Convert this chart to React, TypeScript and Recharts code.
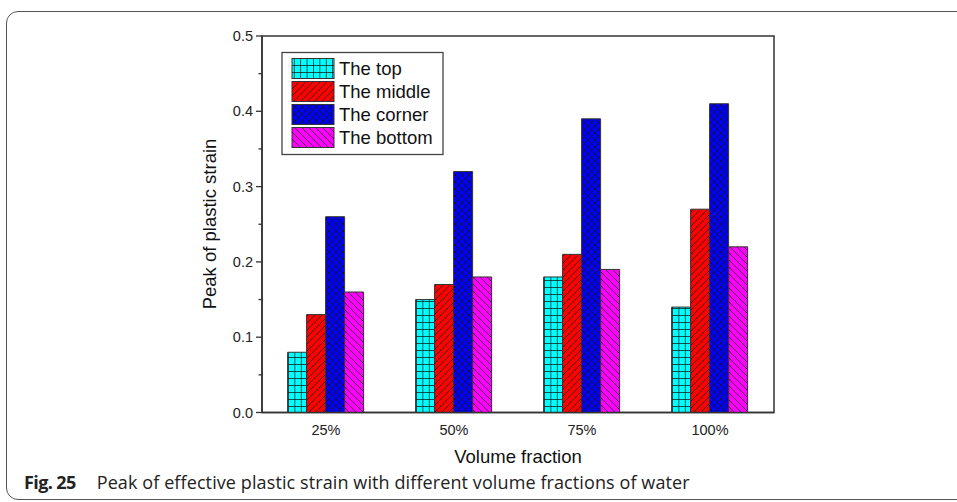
import React from "react";
import { BarChart, Bar, XAxis, YAxis, ReferenceArea } from "recharts";

// Volume fractions of water on the x axis
const categories = ["25%", "50%", "75%", "100%"];
// Peak of plastic strain per location
const topValues = [0.08, 0.15, 0.18, 0.14];
const middleValues = [0.13, 0.17, 0.21, 0.27];
const cornerValues = [0.26, 0.32, 0.39, 0.41];
const bottomValues = [0.16, 0.18, 0.19, 0.22];
// y ticks: majors get a label, minors are short marks
const yTicks = [0, 0.05, 0.1, 0.15, 0.2, 0.25, 0.3, 0.35, 0.4, 0.45, 0.5];
const seriesNames = ["The top", "The middle", "The corner", "The bottom"];

const data = categories.map((c, i) => ({
  cat: c,
  top: topValues[i],
  middle: middleValues[i],
  corner: cornerValues[i],
  bottom: bottomValues[i],
}));

const FONT = "'Liberation Sans', Arial, sans-serif";
const INK = "#222";
const HATCH = "#151515";

const Patterns = ({ prefix }: { prefix: string }) => (
  <defs>
    <pattern id={`${prefix}-grid`} width="6.4" height="7" patternUnits="userSpaceOnUse">
      <rect width="6.4" height="7" fill="#00FFFF" />
      <path d="M0 0.4 H6.4 M0.4 0 V7" stroke={HATCH} strokeWidth="0.8" />
    </pattern>
    <pattern id={`${prefix}-fwd`} width="7" height="7" patternUnits="userSpaceOnUse">
      <rect width="7" height="7" fill="#FF0000" />
      <path d="M-2 9 L9 -2 M-2 2 L2 -2 M5 9 L9 5" stroke={HATCH} strokeWidth="0.8" />
    </pattern>
    <pattern id={`${prefix}-cross`} width="7" height="7" patternUnits="userSpaceOnUse">
      <rect width="7" height="7" fill="#0000FF" />
      <path d="M-2 9 L9 -2 M-2 2 L2 -2 M5 9 L9 5 M-2 -2 L9 9 M-2 5 L2 9 M5 -2 L9 2" stroke={HATCH} strokeWidth="0.8" />
    </pattern>
    <pattern id={`${prefix}-back`} width="7" height="7" patternUnits="userSpaceOnUse">
      <rect width="7" height="7" fill="#FF00FF" />
      <path d="M-2 -2 L9 9 M-2 5 L2 9 M5 -2 L9 2" stroke={HATCH} strokeWidth="0.8" />
    </pattern>
  </defs>
);

const fills = ["grid", "fwd", "cross", "back"];

const YTick = (props: any) => {
  const { x, y, payload } = props;
  const v = payload.value as number;
  const major = Math.abs(v * 10 - Math.round(v * 10)) < 1e-6;
  return (
    <g>
      <line x1={x} x2={x - (major ? 6 : 3.5)} y1={y} y2={y} stroke="#333" strokeWidth={1.3} />
      {major && (
        <text x={x - 9} y={y} dy="0.35em" textAnchor="end" fontSize={14.5} fontFamily={FONT} fill={INK}>
          {v.toFixed(1)}
        </text>
      )}
    </g>
  );
};

const XTick = (props: any) => {
  const { x, payload } = props;
  return (
    <text x={x} y={430} dy="0.35em" textAnchor="middle" fontSize={14.5} fontFamily={FONT} fill={INK}>
      {payload.value}
    </text>
  );
};

const LegendBox = () => (
  <svg width={170} height={110} style={{ position: "absolute", left: 281, top: 51 }}>
    <Patterns prefix="lg" />
    <rect x={1} y={1.5} width={161} height={102} fill="#fff" stroke="#444" strokeWidth={1.3} />
    {seriesNames.map((name, i) => (
      <g key={name}>
        <rect x={11} y={7.5 + i * 23} width={42} height={20} fill={`url(#lg-${fills[i]})`} stroke="#333" strokeWidth={1} />
        <text x={58} y={18 + i * 23} dy="0.35em" fontSize={18.5} fontFamily={FONT} fill="#111">
          {name}
        </text>
      </g>
    ))}
  </svg>
);

export default function App() {
  return (
    <div style={{ position: "absolute", left: 0, top: 0, width: 957, height: 502, background: "#fff", overflow: "hidden" }}>
      {/* rounded figure frame */}
      <div
        style={{
          position: "absolute",
          left: 6,
          top: 11,
          width: 990,
          height: 489,
          border: "1.3px solid #555",
          borderRadius: 12,
          boxSizing: "border-box",
        }}
      />
      <div style={{ position: "absolute", left: 0, top: 0 }}>
        <BarChart
          width={957}
          height={502}
          data={data}
          margin={{ top: 36, right: 183, bottom: 59.5, left: 212 }}
          barCategoryGap="20%"
          barGap={0}
        >
          <Patterns prefix="bar" />
          <XAxis
            dataKey="cat"
            tick={<XTick />}
            tickLine={false}
            axisLine={{ stroke: "#333", strokeWidth: 1.5 }}
            height={30}
            interval={0}
          />
          <YAxis
            domain={[0, 0.5]}
            ticks={yTicks}
            tick={<YTick />}
            tickSize={0}
            tickMargin={0}
            tickLine={false}
            interval={0}
            axisLine={{ stroke: "#333", strokeWidth: 1.5 }}
            width={50}
          />
          <ReferenceArea y1={0} y2={0.5} fill="none" stroke="#333" strokeWidth={1.5} ifOverflow="visible" />
          <Bar dataKey="top" fill="url(#bar-grid)" stroke="#333" strokeWidth={1} isAnimationActive={false} />
          <Bar dataKey="middle" fill="url(#bar-fwd)" stroke="#333" strokeWidth={1} isAnimationActive={false} />
          <Bar dataKey="corner" fill="url(#bar-cross)" stroke="#333" strokeWidth={1} isAnimationActive={false} />
          <Bar dataKey="bottom" fill="url(#bar-back)" stroke="#333" strokeWidth={1} isAnimationActive={false} />
        </BarChart>
      </div>
      <LegendBox />
      {/* axis titles */}
      <div
        style={{
          position: "absolute",
          left: 518,
          top: 457,
          transform: "translate(-50%, -50%)",
          fontFamily: FONT,
          fontSize: 18.5,
          color: "#111",
          whiteSpace: "nowrap",
        }}
      >
        Volume fraction
      </div>
      <div
        style={{
          position: "absolute",
          left: 210,
          top: 224,
          transform: "translate(-50%, -50%) rotate(-90deg)",
          fontFamily: FONT,
          fontSize: 18.5,
          color: "#111",
          whiteSpace: "nowrap",
        }}
      >
        Peak of plastic strain
      </div>
      {/* caption */}
      <div
        style={{
          position: "absolute",
          left: 24,
          top: 482,
          transform: "translateY(-50%)",
          fontFamily: "'Open Sans', 'Noto Sans', sans-serif",
          fontSize: 18,
          color: "#222",
          whiteSpace: "nowrap",
        }}
      >
        <span style={{ fontWeight: 700, letterSpacing: -0.6 }}>Fig. 25</span>
        <span style={{ marginLeft: 21, letterSpacing: 0.1 }}>Peak of effective plastic strain with different volume fractions of water</span>
      </div>
    </div>
  );
}
